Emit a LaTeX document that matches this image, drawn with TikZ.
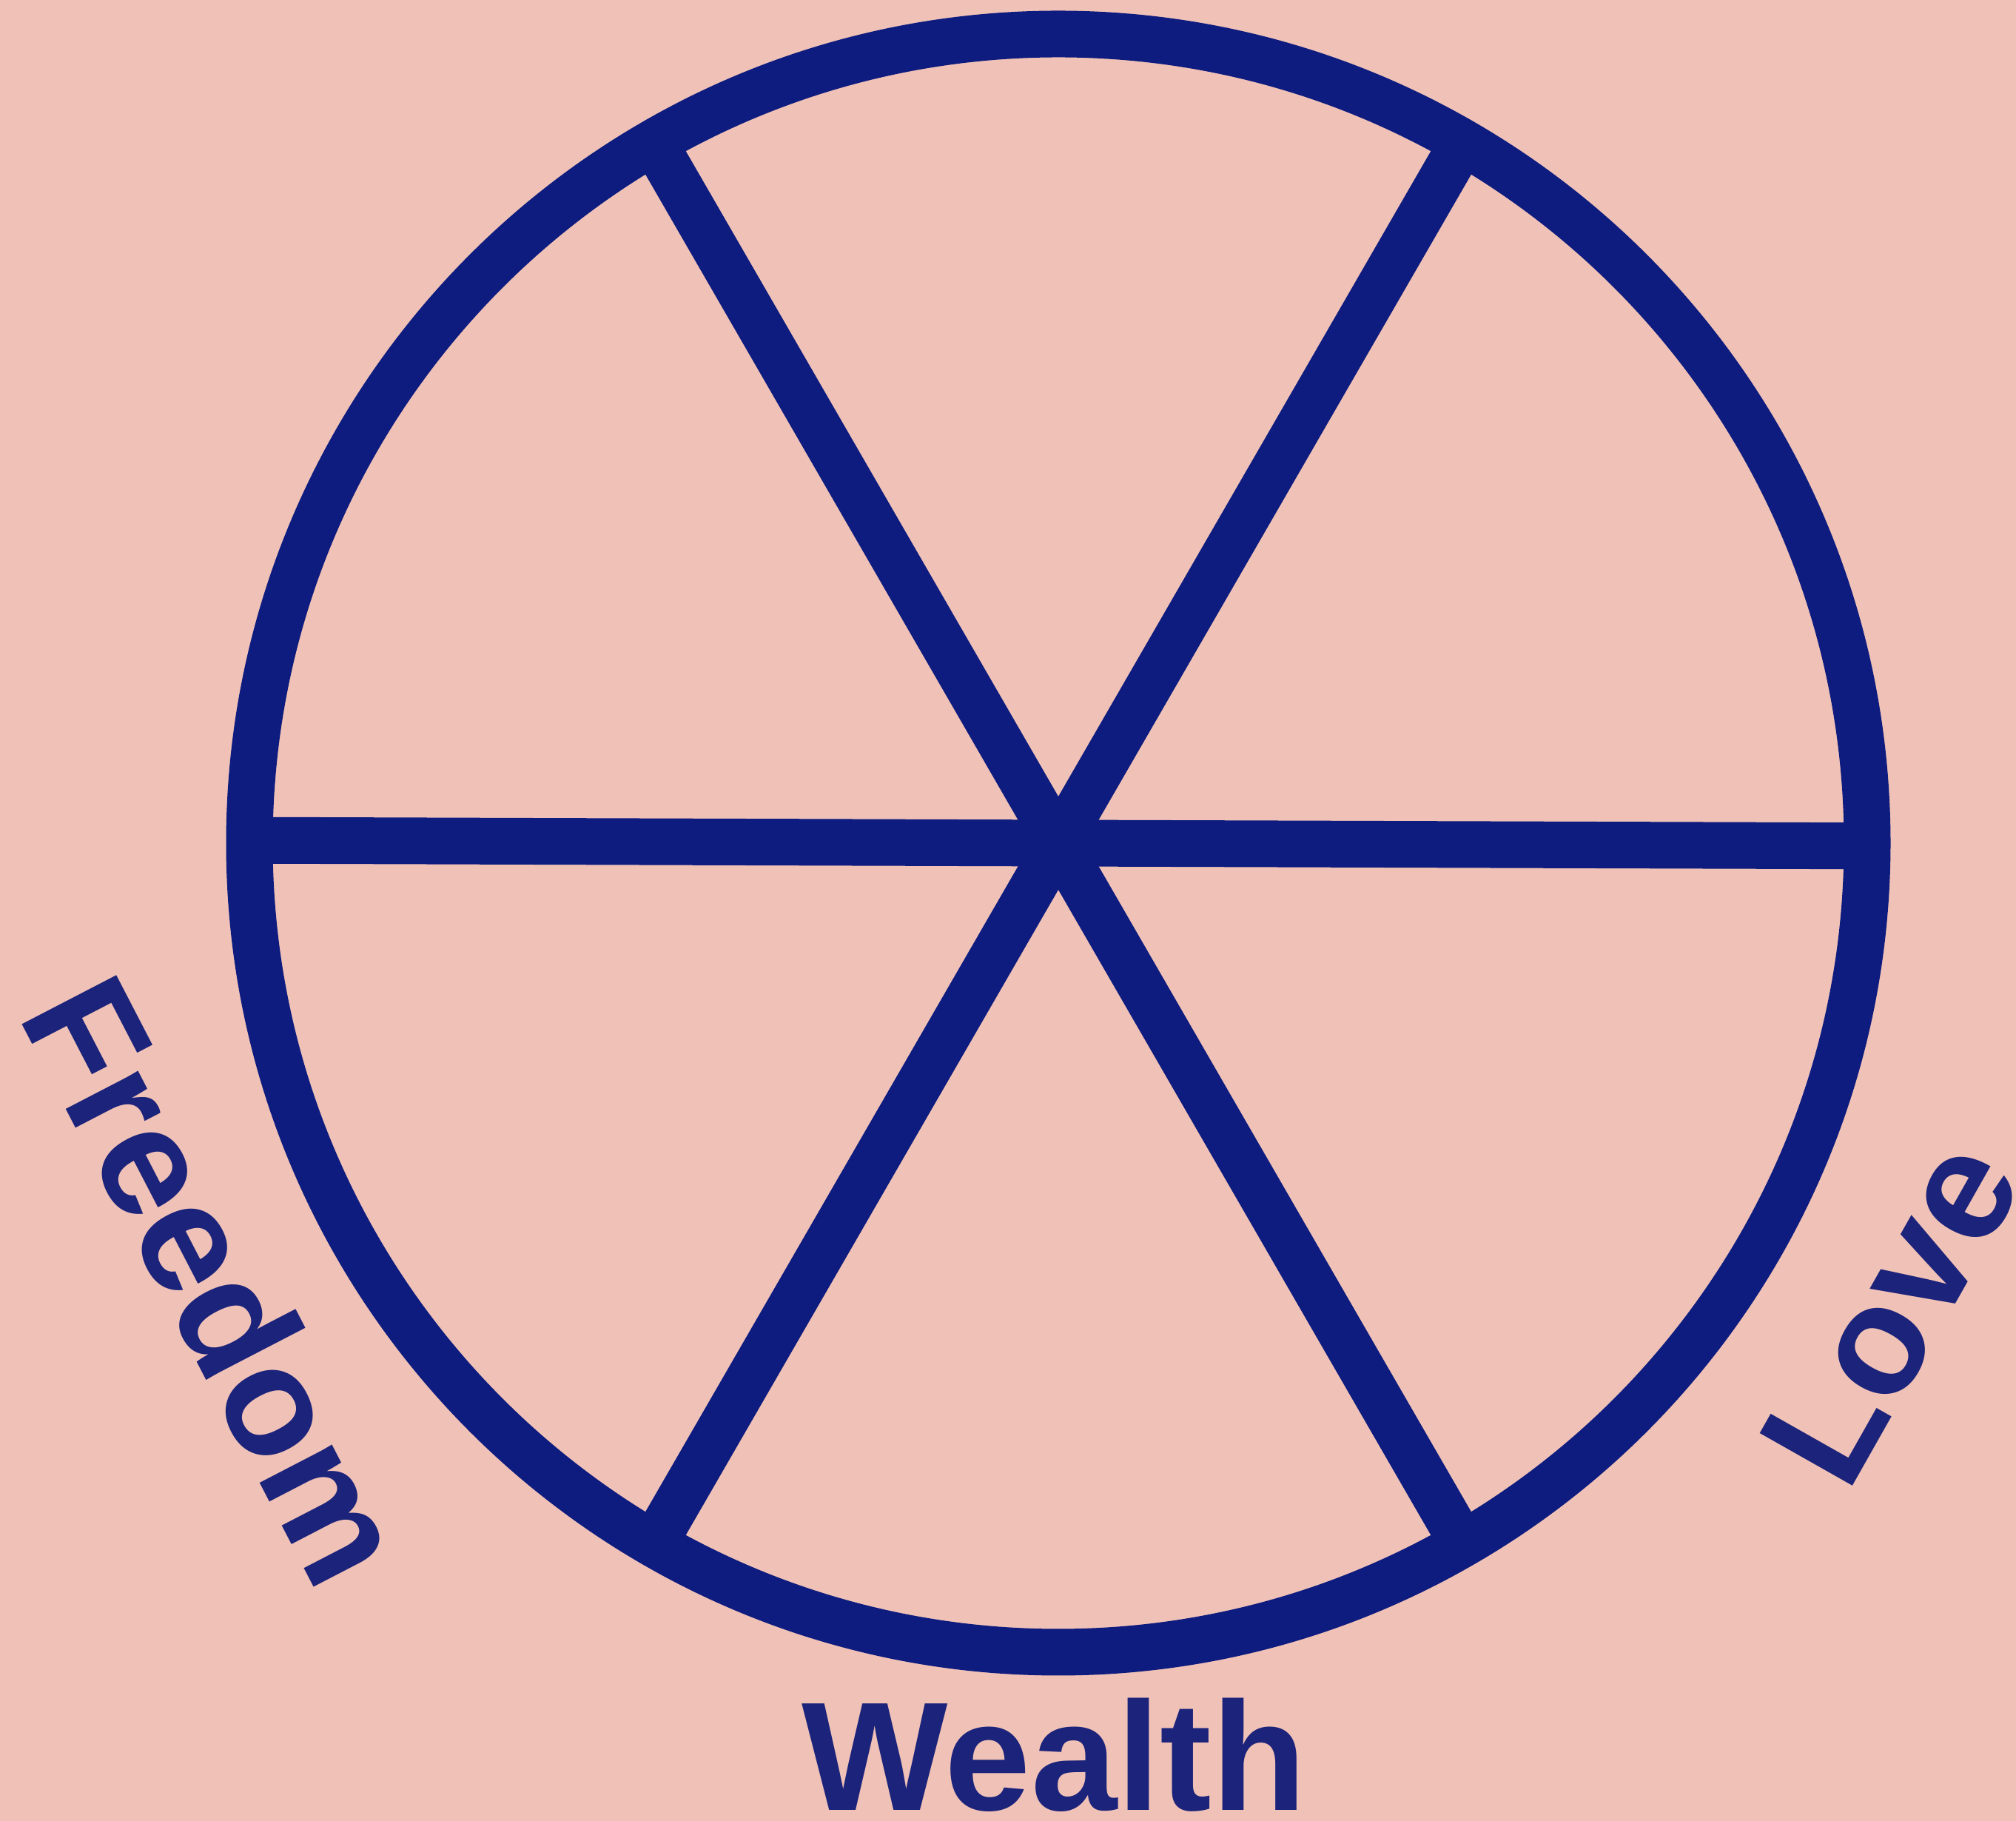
\documentclass[tikz,border=0pt]{standalone}
\usepackage{fontspec}
\setmainfont{Liberation Sans}
\usepackage{xcolor}
\usetikzlibrary{positioning}
\definecolor{blush}{RGB}{240,193,183}
\definecolor{wheelblue}{RGB}{13,28,126}
\definecolor{wordblue}{RGB}{27,35,122}

\begin{document}
\begin{tikzpicture}[
        rim/.style={draw=wheelblue, line width=0.63cm},
        spoke/.style={draw=wheelblue, line width=0.63cm},
        word/.style={text=wordblue, inner sep=0pt, anchor=base west,
                     font=\bfseries\fontsize{59.5}{70}\selectfont}]
      \fill[blush] (0,0) rectangle (27.24,24.60);
      \useasboundingbox (0,0) rectangle (27.24,24.60);
      \coordinate (hub) at (14.30,13.21);
      \draw[rim] (hub) circle (10.93cm);
      % three diameters
      \foreach \a in {-0.2,60,120} {
        \draw[spoke] (hub) ++(\a:10.93) -- ++(\a+180:21.86);
      }
      \node[word, anchor=base] (wealth) at (14.24,0.14) {Wealth};
      \node[word, rotate=-62.6] (freedom) at (0.23,10.89) {Freedom};
      \node[word, rotate=60.5] (love) at (24.96,4.40) {Love};
    \end{tikzpicture}
\end{document}
